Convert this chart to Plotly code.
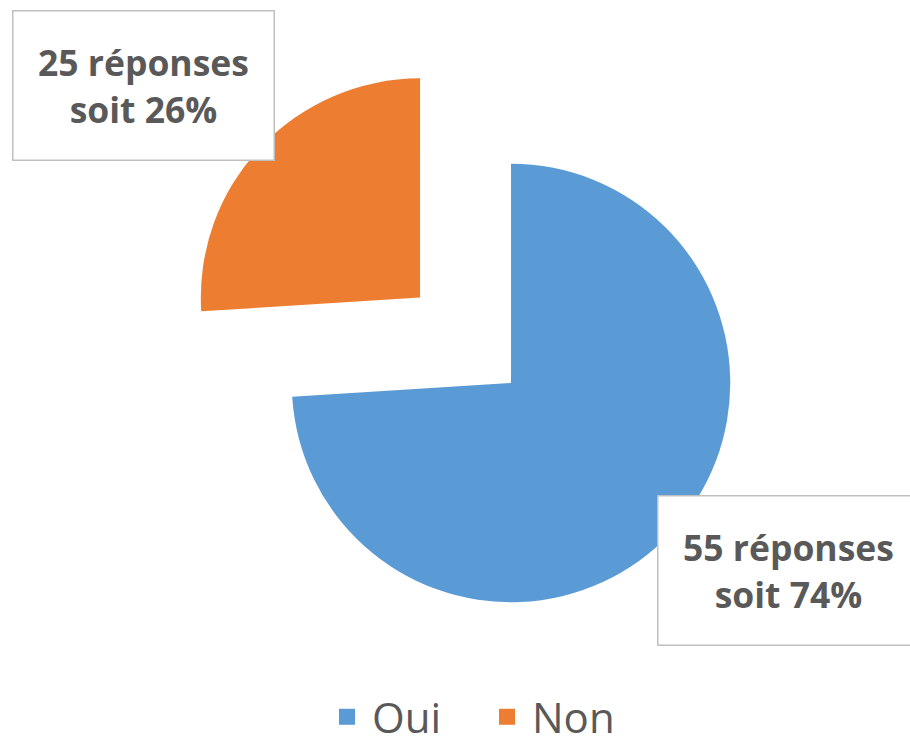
import plotly.graph_objects as go

# Data
categories = ["Oui", "Non"]
responses = [55, 25]
percentages = [74, 26]
colors = ["#5B9BD5", "#ED7D31"]

W, H = 910, 748

fig = go.Figure()
fig.add_trace(go.Pie(
    labels=categories,
    values=percentages,
    marker=dict(colors=colors, line=dict(width=0)),
    sort=False,
    direction="clockwise",
    rotation=0,
    pull=[0, 0.569],
    textinfo="none",
    hoverinfo="label+value",
    domain=dict(x=[(511 - 344) / W, (511 + 344) / W],
                y=[1 - (383 + 344) / H, 1 - (383 - 344) / H]),
    showlegend=False,
))

# legend entries with larger square swatches
for cat, c in zip(categories, colors):
    fig.add_trace(go.Scatter(
        x=[None], y=[None], mode="markers", name=cat,
        marker=dict(symbol="square", size=25, color=c),
        showlegend=True, hoverinfo="skip",
    ))

label_pos = {"Non": (143, 85), "Oui": (788, 570)}
for cat, n, p in zip(categories, responses, percentages):
    px, py = label_pos[cat]
    fig.add_annotation(
        x=px / W, y=1 - py / H, xref="paper", yref="paper",
        text=f"<b>{n} réponses<br>soit {p}%</b>",
        showarrow=False,
        font=dict(family="Open Sans", size=35.5, color="#595959"),
        align="center",
        bgcolor="white",
        bordercolor="#BFBFBF",
        borderwidth=1.5,
        borderpad=0,
        width=260,
        height=148,
        xanchor="center", yanchor="middle",
    )

fig.update_layout(
    width=W, height=H,
    margin=dict(l=0, r=0, t=0, b=0, autoexpand=False),
    paper_bgcolor="white",
    plot_bgcolor="white",
    font=dict(family="Open Sans", color="#595959"),
    xaxis=dict(visible=False),
    yaxis=dict(visible=False),
    legend=dict(
        orientation="h",
        x=322 / W, xanchor="left",
        y=-0.004, yanchor="bottom",
        itemwidth=40,
        entrywidth=105,
        font=dict(family="Open Sans", size=42, color="#595959"),
        bgcolor="rgba(0,0,0,0)",
    ),
)

fig.write_html(
    "out.html",
    config={"displayModeBar": False},
    post_script="document.body.style.margin='0';document.body.style.overflow='hidden';",
)
